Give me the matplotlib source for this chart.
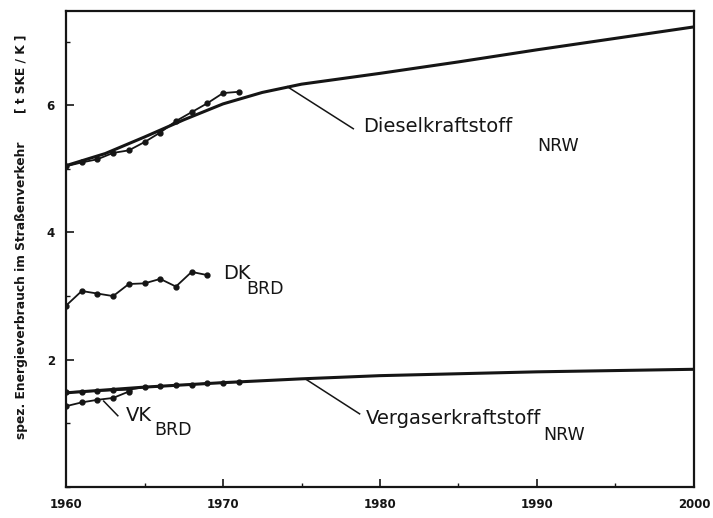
import matplotlib
matplotlib.use("Agg")
import matplotlib.pyplot as plt
from matplotlib.ticker import MultipleLocator

# Diesel NRW trend/projection curve
dk_nrw_years = [1960, 1962.5, 1965, 1967.5, 1970, 1972.5, 1975, 1980, 1985, 1990, 1995, 2000]
dk_nrw_curve = [5.05, 5.24, 5.50, 5.77, 6.02, 6.20, 6.33, 6.50, 6.68, 6.87, 7.05, 7.23]

# Diesel NRW observed values
dk_nrw_obs_years = [1960, 1961, 1962, 1963, 1964, 1965, 1966, 1967, 1968, 1969, 1970, 1971]
dk_nrw_obs = [5.04, 5.10, 5.15, 5.25, 5.29, 5.42, 5.57, 5.75, 5.89, 6.03, 6.19, 6.21]

# Diesel BRD observed values
dk_brd_years = [1960, 1961, 1962, 1963, 1964, 1965, 1966, 1967, 1968, 1969]
dk_brd = [2.85, 3.08, 3.04, 3.00, 3.19, 3.20, 3.27, 3.15, 3.38, 3.33]

# Petrol (Vergaserkraftstoff) NRW trend/projection curve
vk_nrw_years = [1960, 1965, 1970, 1975, 1980, 1990, 2000]
vk_nrw_curve = [1.48, 1.57, 1.64, 1.70, 1.75, 1.81, 1.85]

# Petrol NRW observed values
vk_nrw_obs_years = [1960, 1961, 1962, 1963, 1964, 1965, 1966, 1967, 1968, 1969, 1970, 1971]
vk_nrw_obs = [1.49, 1.50, 1.51, 1.52, 1.53, 1.57, 1.58, 1.60, 1.61, 1.63, 1.64, 1.65]

# Petrol BRD observed values
vk_brd_years = [1960, 1961, 1962, 1963, 1964]
vk_brd = [1.27, 1.33, 1.37, 1.40, 1.50]

x_ticks = [1960, 1970, 1980, 1990, 2000]
y_ticks = [2, 4, 6]

plt.rcParams["font.family"] = ["DejaVu Sans"]

fig = plt.figure(figsize=(7.13, 5.18), dpi=100)
ax = fig.add_axes([0.0926, 0.0598, 0.8807, 0.919])

ink = "#151515"

# observed series (thin lines with dots)
for xs, ys in [(dk_nrw_obs_years, dk_nrw_obs), (dk_brd_years, dk_brd),
               (vk_nrw_obs_years, vk_nrw_obs), (vk_brd_years, vk_brd)]:
    ax.plot(xs, ys, color=ink, linewidth=1.3, marker="o", markersize=3.5, zorder=3)

# trend curves (thick)
ax.plot(dk_nrw_years, dk_nrw_curve, color=ink, linewidth=2.2, solid_capstyle="butt", zorder=4)
ax.plot(vk_nrw_years, vk_nrw_curve, color=ink, linewidth=2.2, solid_capstyle="butt", zorder=4)

ax.set_xlim(1960, 2000)
ax.set_ylim(0, 7.48)
ax.set_xticks(x_ticks)
ax.set_yticks(y_ticks)
ax.xaxis.set_minor_locator(MultipleLocator(5))
ax.yaxis.set_minor_locator(MultipleLocator(1))
ax.tick_params(which="major", direction="in", length=6, width=1.2, colors=ink,
               labelsize=8.5, pad=8)
ax.tick_params(which="minor", direction="in", length=3, width=1.0, colors=ink)
for lbl in ax.get_xticklabels() + ax.get_yticklabels():
    lbl.set_fontweight("bold")
for sp in ax.spines.values():
    sp.set_linewidth(1.6)
    sp.set_color(ink)

# curve labels with leader lines
lab = dict(color=ink, fontsize=14, va="center", ha="left")
sub = dict(color=ink, fontsize=12.5, va="center", ha="left")

ax.plot([1974.1, 1978.3], [6.29, 5.63], color=ink, linewidth=1.1)
ax.text(1978.9, 5.67, "Dieselkraftstoff", **lab)
ax.text(1990.0, 5.36, "NRW", **sub)

ax.text(1970.0, 3.35, "DK", **lab)
ax.text(1971.5, 3.11, "BRD", **sub)

ax.plot([1962.4, 1963.3], [1.35, 1.12], color=ink, linewidth=1.1)
ax.text(1963.8, 1.12, "VK", **lab)
ax.text(1965.6, 0.89, "BRD", **sub)

ax.plot([1975.3, 1978.7], [1.69, 1.15], color=ink, linewidth=1.1)
ax.text(1979.1, 1.07, "Vergaserkraftstoff", **lab)
ax.text(1990.4, 0.82, "NRW", **sub)

# rotated y-axis label
fig.text(0.030, 0.440, "spez. Energieverbrauch im Straßenverkehr", rotation=90,
         fontsize=8.8, fontweight="bold", color=ink, ha="center", va="center")
fig.text(0.030, 0.857, "[ t SKE / K ]", rotation=90,
         fontsize=8.8, fontweight="bold", color=ink, ha="center", va="center")

fig.savefig("out.png", dpi=100)
